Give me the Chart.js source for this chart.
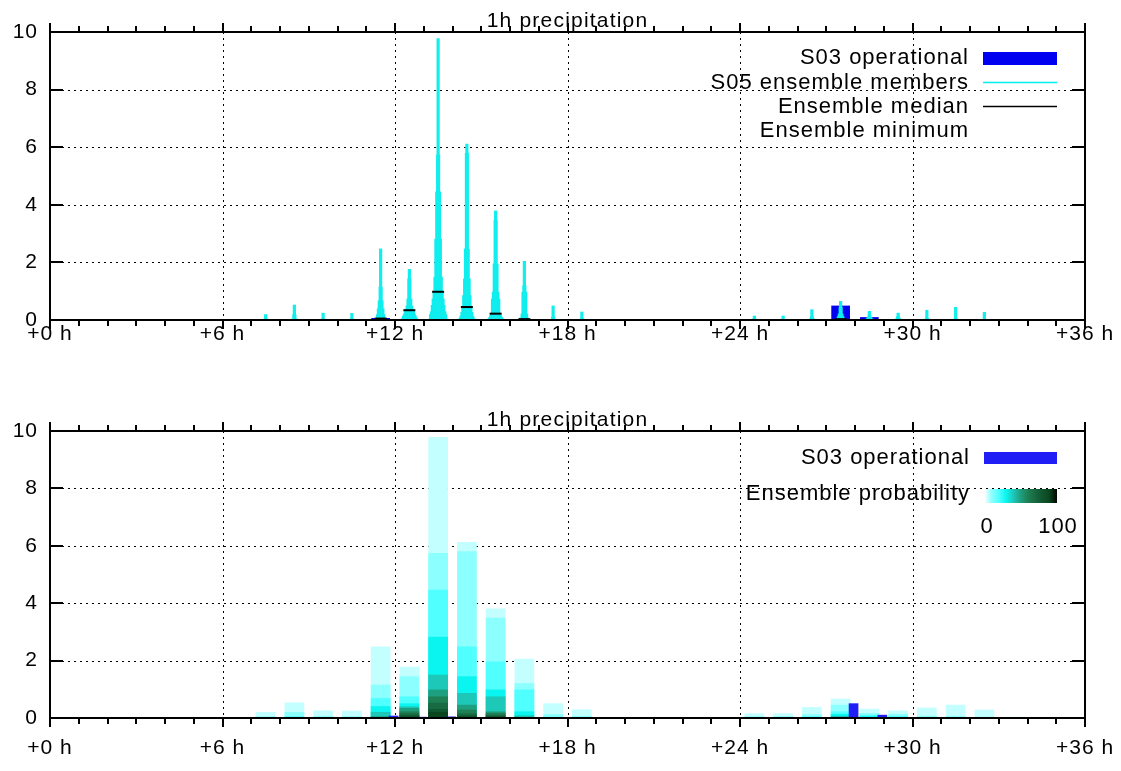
<!DOCTYPE html>
<html>
<head>
<meta charset="utf-8">
<script src="https://cdn.jsdelivr.net/npm/chart.js@4.4.1/dist/chart.umd.min.js"></script>
<style>
body{margin:0;background:#fff}
.box{position:absolute;left:0;width:1121px}
</style>
</head>
<body>
<div class="box" style="top:0;height:385px"><canvas id="top"></canvas></div>
<div class="box" style="top:385px;height:386px"><canvas id="bottom"></canvas></div>
<script>

// forecast hour (start of each 1h bin)
let hours=[0,1,2,3,4,5,6,7,8,9,10,11,12,13,14,15,16,17,18,19,20,21,22,23,24,25,26,27,28,29,30,31,32,33,34,35]

// S03 operational run, mm/h
let operational=[0,0,0,0,0,0,0,0,0,0,0,0.07,0.03,0.04,0,0,0,0,0,0,0,0,0,0,0.02,0,0.02,0.5,0.1,0,0,0,0,0,0,0]

// S05 ensemble: value exceeded by the given share of members (%)
let probLevels=[5,10,20,30,40,50,60,70,80,90]
let q05=[0,0,0,0,0,0,0,0.2,0.53,0.25,0.24,2.48,1.77,9.78,6.12,3.8,2.05,0.5,0.29,0.02,0,0,0,0.01,0.15,0.15,0.37,0.66,0.31,0.25,0.35,0.45,0.28,0.03,0.02,0]
let q10=[0,0,0,0,0,0,0,0.05,0.2,0.06,0.05,1.15,1.44,5.74,5.8,3.48,1.2,0.12,0.06,0,0,0,0,0,0.05,0.05,0.12,0.45,0.16,0.13,0.07,0.06,0.03,0,0,0]
let q20=[0,0,0,0,0,0,0,0,0.05,0,0,0.68,0.74,4.46,2.48,1.96,0.98,0.03,0,0,0,0,0,0,0.02,0,0.05,0.22,0.1,0.06,0.02,0.02,0,0,0,0]
let q30=[0,0,0,0,0,0,0,0,0,0,0,0.4,0.5,2.82,1.44,0.98,0.22,0,0,0,0,0,0,0,0,0,0.02,0.13,0.05,0.02,0,0,0,0,0,0]
let q40=[0,0,0,0,0,0,0,0,0,0,0,0.2,0.39,1.5,0.86,0.74,0.08,0,0,0,0,0,0,0,0,0,0,0.06,0.02,0,0,0,0,0,0,0]
let q50=[0,0,0,0,0,0,0,0,0,0,0,0.05,0.34,0.98,0.45,0.22,0.03,0,0,0,0,0,0,0,0,0,0,0.03,0,0,0,0,0,0,0,0]
let q60=[0,0,0,0,0,0,0,0,0,0,0,0.02,0.22,0.74,0.28,0.17,0.01,0,0,0,0,0,0,0,0,0,0,0.01,0,0,0,0,0,0,0,0]
let q70=[0,0,0,0,0,0,0,0,0,0,0,0,0.15,0.52,0.15,0.1,0,0,0,0,0,0,0,0,0,0,0,0,0,0,0,0,0,0,0,0]
let q80=[0,0,0,0,0,0,0,0,0,0,0,0,0.08,0.3,0.08,0.05,0,0,0,0,0,0,0,0,0,0,0,0,0,0,0,0,0,0,0,0]
let q90=[0,0,0,0,0,0,0,0,0,0,0,0,0.03,0.2,0.03,0.02,0,0,0,0,0,0,0,0,0,0,0,0,0,0,0,0,0,0,0,0]
let ensQ=[q05,q10,q20,q30,q40,q50,q60,q70,q80,q90]

let xTicks=[0,6,12,18,24,30,36]
let yTicks=[0,2,4,6,8,10]

let FONT='"Liberation Sans", Arial, sans-serif'

// probability colour scale, white -> cyan -> teal -> black
let palette=[
[0,255,255,255],[5,195,255,255],[10,140,255,255],[20,80,255,255],[30,10,245,240],
[40,30,200,185],[50,30,160,128],[60,30,128,85],[75,20,95,55],[90,10,70,30],[100,0,10,0]
]
function probColor(p){
for(let i=1;i<palette.length;i++){
let a=palette[i-1],b=palette[i]
if(p<=b[0]){
let t=(p-a[0])/(b[0]-a[0])
let c=[1,2,3].map(k=>Math.round(a[k]+(b[k]-a[k])*t))
return "rgb("+c.join(",")+")"
}
}
return "rgb(0,10,0)"
}

function pts(arr,shift){
return hours.map((h,i)=>({x:h+shift,y:arr[i]}))
}

// grid, border and tick marks in the gnuplot way
function frameBack(chart){
let {ctx,chartArea:a,scales:{x,y}}=chart
ctx.save()
ctx.strokeStyle="#000"
ctx.lineWidth=1
ctx.setLineDash([2,4])
ctx.beginPath()
x.ticks.forEach(t=>{
if(t.value<=0||t.value>=36) return
let px=Math.round(x.getPixelForValue(t.value))+0.5
ctx.moveTo(px,a.top);ctx.lineTo(px,a.bottom)
})
y.ticks.forEach(t=>{
if(t.value<=0||t.value>=10) return
let py=Math.round(y.getPixelForValue(t.value))+0.5
ctx.moveTo(a.left,py);ctx.lineTo(a.right,py)
})
ctx.stroke()
ctx.restore()
}

function frameFront(chart){
let {ctx,chartArea:a,scales:{x,y}}=chart
ctx.save()
ctx.strokeStyle="#000"
ctx.lineWidth=2
ctx.setLineDash([])
ctx.beginPath()
for(let h=0;h<=36;h++){
let px=Math.round(x.getPixelForValue(h))
let len=h%6===0?9:6
ctx.moveTo(px,a.bottom);ctx.lineTo(px,a.bottom+len)
ctx.moveTo(px,a.top);ctx.lineTo(px,a.top-len)
}
y.ticks.forEach(t=>{
let py=Math.round(y.getPixelForValue(t.value))
ctx.moveTo(a.left,py);ctx.lineTo(a.left+13,py)
ctx.moveTo(a.right,py);ctx.lineTo(a.right-13,py)
})
ctx.stroke()
ctx.strokeRect(a.left,a.top,a.right-a.left,a.bottom-a.top)
ctx.restore()
}

function title(chart){
let {ctx,chartArea:a}=chart
ctx.save()
ctx.font="21px "+FONT
ctx.letterSpacing="1.2px"
ctx.fillStyle="#000"
ctx.textAlign="center"
ctx.textBaseline="alphabetic"
ctx.fillText("1h precipitation",(a.left+a.right)/2,a.top-5)
ctx.restore()
}

function legendText(ctx,txt,x,y){
ctx.font="22px "+FONT
ctx.letterSpacing="1px"
ctx.fillStyle="#000"
ctx.textAlign="right"
ctx.textBaseline="middle"
ctx.fillText(txt,x,y)
}

// slightly wider tick labels
let spacing={id:"spacing",beforeDraw(chart){chart.ctx.letterSpacing="1px"}}

let topLegend={
id:"topLegend",
beforeDatasetsDraw:frameBack,
afterDatasetsDraw:frameFront,
afterDraw(chart){
title(chart)
let {ctx,chartArea:a}=chart
let tx=a.right-116,s0=a.right-102,s1=a.right-28
ctx.save()
legendText(ctx,"S03 operational",tx,a.top+26)
legendText(ctx,"S05 ensemble members",tx,a.top+51)
legendText(ctx,"Ensemble median",tx,a.top+75)
legendText(ctx,"Ensemble minimum",tx,a.top+99)
ctx.fillStyle="#0000f0"
ctx.fillRect(s0,a.top+20,s1-s0,13)
ctx.strokeStyle="#00f0f0"
ctx.lineWidth=1.5
ctx.beginPath();ctx.moveTo(s0,a.top+50.5);ctx.lineTo(s1,a.top+50.5);ctx.stroke()
ctx.strokeStyle="#000"
ctx.beginPath();ctx.moveTo(s0,a.top+74.5);ctx.lineTo(s1,a.top+74.5);ctx.stroke()
ctx.restore()
}
}

let bottomLegend={
id:"bottomLegend",
beforeDatasetsDraw:frameBack,
afterDatasetsDraw:frameFront,
afterDraw(chart){
title(chart)
let {ctx,chartArea:a}=chart
let tx=a.right-115,s0=a.right-101,s1=a.right-28
ctx.save()
legendText(ctx,"S03 operational",tx,a.top+27)
legendText(ctx,"Ensemble probability",tx,a.top+63)
ctx.fillStyle="rgb(30,30,245)"
ctx.fillRect(s0,a.top+21,s1-s0,12)
for(let i=0;i<s1-s0;i++){
ctx.fillStyle=probColor(100*i/(s1-s0-1))
ctx.fillRect(s0+i,a.top+58,1,14)
}
ctx.font="22px "+FONT
ctx.letterSpacing="1px"
ctx.fillStyle="#000"
ctx.textAlign="center"
ctx.textBaseline="middle"
ctx.fillText("0",s0+3,a.top+96)
ctx.fillText("100",s1+1,a.top+96)
ctx.restore()
}
}

function axes(xHeight,labelPad){
let tickFont={family:FONT,size:21}
return{
x:{type:"linear",min:0,max:36,offset:false,
grid:{display:false,drawTicks:false},border:{display:false},
afterBuildTicks:s=>{s.ticks=xTicks.map(v=>({value:v}))},
ticks:{color:"#000",font:tickFont,padding:labelPad,maxRotation:0,autoSkip:false,callback:v=>"+"+v+" h"},
afterFit:s=>{s.height=xHeight;s.paddingLeft=0;s.paddingRight=0}},
y:{min:0,max:10,
grid:{display:false,drawTicks:false},border:{display:false},
afterBuildTicks:s=>{s.ticks=yTicks.map(v=>({value:v}))},
ticks:{color:"#000",font:tickFont,padding:12},
afterFit:s=>{s.width=50;s.paddingTop=0;s.paddingBottom=0}}
}
}

// upper panel: members as narrowing cyan spikes, operational run behind them
let topSets=[]
topSets.push({type:"bar",data:pts(operational,0.5),backgroundColor:"#0000f0",barPercentage:0.65,order:30})
ensQ.forEach((q,i)=>{
topSets.push({type:"bar",data:pts(q,0.5),backgroundColor:"#10eeee",barPercentage:0.08+0.62*probLevels[i]/100,order:20})
})
topSets.push({type:"scatter",data:hours.map((h,i)=>({x:h+0.5,y:q50[i]>0?q50[i]:null})),
pointStyle:"line",pointRadius:6,borderColor:"#000",borderWidth:2,order:0})

new Chart(document.getElementById("top"),{
type:"bar",
data:{datasets:topSets},
options:{
responsive:true,maintainAspectRatio:false,animation:false,
layout:{padding:{left:0,right:36,top:32,bottom:0}},
plugins:{legend:{display:false},tooltip:{enabled:false}},
datasets:{bar:{grouped:false,categoryPercentage:1}},
scales:axes(65,2)
},
plugins:[spacing,topLegend]
})

// lower panel: exceedance probability bands, operational run beside them
let bottomSets=[]
ensQ.forEach((q,i)=>{
bottomSets.push({type:"bar",data:pts(q,0.5),backgroundColor:probColor(probLevels[i]),barThickness:19,order:30-i})
})
bottomSets.push({type:"bar",data:pts(operational,0.95),backgroundColor:"rgb(30,30,245)",barThickness:9,order:0})

new Chart(document.getElementById("bottom"),{
type:"bar",
data:{datasets:bottomSets},
options:{
responsive:true,maintainAspectRatio:false,animation:false,
layout:{padding:{left:0,right:36,top:46,bottom:0}},
plugins:{legend:{display:false},tooltip:{enabled:false}},
datasets:{bar:{grouped:false,categoryPercentage:1}},
scales:axes(53,18)
},
plugins:[spacing,bottomLegend]
})

</script>
</body>
</html>
